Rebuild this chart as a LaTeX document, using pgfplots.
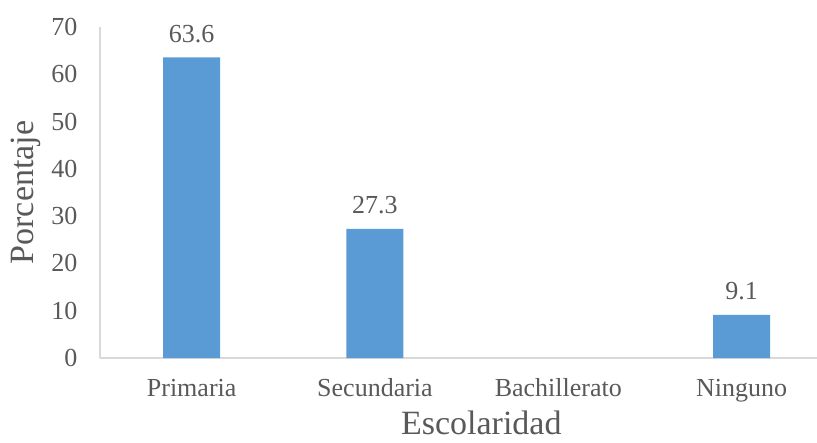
\documentclass[border=0pt]{standalone}
\usepackage{pgfplots}
\pgfplotsset{compat=1.18}
\usepackage{fontspec}
\setmainfont{Liberation Serif}
\definecolor{barblue}{HTML}{5B9BD5}
\definecolor{txt}{HTML}{595959}
\definecolor{axl}{HTML}{D9D9D9}
\begin{document}
\begin{tikzpicture}
\useasboundingbox (-100pt,-84pt) rectangle (717pt,358pt);
\begin{axis}[
  at={(0,0)}, anchor=south west,
  scale only axis,
  width=717pt, height=331pt,
  xmin=-0.5, xmax=3.411,
  ymin=0, ymax=70,
  ytick={0,10,...,70},
  xtick={0,1,2,3},
  xticklabels={Primaria,Secundaria,Bachillerato,Ninguno},
  axis x line=bottom, axis y line=left,
  axis line style={-, draw=axl, line width=1.3pt},
  major tick length=0pt,
  tick style={draw=none},
  /pgf/number format/assume math mode=true,
  yticklabel style={font=\fontsize{26}{30}\selectfont, text=txt, anchor=east, xshift=-19pt},
  xticklabel style={font=\fontsize{26}{30}\selectfont, text=txt, anchor=base, yshift=-38pt},
  ylabel={Porcentaje},
  every axis y label/.style={at={(axis description cs:0,0.5)}, xshift=-74pt, rotate=90, anchor=center, font=\fontsize{34}{40}\selectfont, text=txt},
  xlabel={Escolaridad},
  every axis x label/.style={at={(axis cs:1.58,0)}, yshift=-76pt, anchor=base, font=\fontsize{34}{40}\selectfont, text=txt},
  clip=false,
  nodes near coords,
  nodes near coords style={font=\fontsize{26}{30}\selectfont, text=txt, anchor=base, yshift=15pt, /pgf/number format/.cd, fixed, precision=1, assume math mode=true},
]
\addplot[ybar, bar width=57pt, fill=barblue, draw=none] coordinates {(0,63.6) (1,27.3) (3,9.1)};
\end{axis}
\end{tikzpicture}
\end{document}
